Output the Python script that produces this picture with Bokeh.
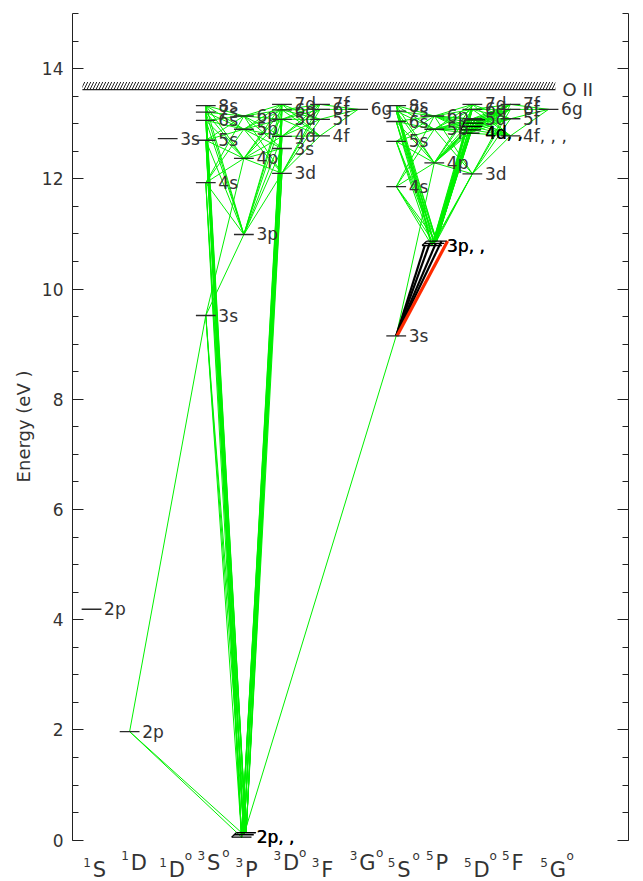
from bokeh.plotting import figure
from bokeh.models import Range1d, LinearAxis, SingleIntervalTicker, Title
from bokeh.core.properties import value
from bokeh.embed import file_html
from bokeh.resources import INLINE

# ---------------- terms (one column each) ----------------
term_keys = ["1S", "1D", "1Do", "3So", "3P", "3Do", "3F", "3Go", "5So", "5P", "5Do", "5F", "5Go"]
term_mult = ["1", "1", "1", "3", "3", "3", "3", "3", "5", "5", "5", "5", "5"]
term_letter = ["S", "D", "D", "S", "P", "D", "F", "G", "S", "P", "D", "F", "G"]
term_odd = [False, False, True, True, False, True, False, True, True, False, True, False, True]

# ---------------- energy levels (eV); several values = J components ----------------
level_term = ["1S", "1D", "1Do",
              "3So", "3So", "3So", "3So", "3So", "3So",
              "3P", "3P", "3P", "3P", "3P",
              "3Do", "3Do", "3Do", "3Do", "3Do", "3Do",
              "3F", "3F", "3F", "3F",
              "3Go",
              "5So", "5So", "5So", "5So", "5So", "5So",
              "5P", "5P", "5P", "5P",
              "5Do", "5Do", "5Do", "5Do", "5Do",
              "5F", "5F", "5F", "5F",
              "5Go"]
level_conf = ["2p", "2p", "3s",
              "3s", "4s", "5s", "6s", "7s", "8s",
              "2p", "3p", "4p", "5p", "6p",
              "3d", "3s", "4d", "5d", "6d", "7d",
              "4f", "5f", "6f", "7f",
              "6g",
              "3s", "4s", "5s", "6s", "7s", "8s",
              "3p", "4p", "5p", "6p",
              "3d", "4d", "5d", "6d", "7d",
              "4f", "5f", "6f", "7f",
              "6g"]
level_energy = [[4.19], [1.97], [12.73],
                [9.52], [11.93], [12.70], [13.06], [13.21], [13.33],
                [0.055, 0.098, 0.135], [10.99], [12.37], [12.90], [13.14],
                [12.10], [12.55], [12.77], [13.08], [13.25], [13.35],
                [12.78], [13.08], [13.26], [13.35],
                [13.26],
                [9.15], [11.86], [12.68], [13.04], [13.23], [13.33],
                [10.79, 10.83, 10.87], [12.29], [12.90], [13.14],
                [12.09], [12.83, 12.89, 12.95, 13.01, 13.07], [13.09], [13.26], [13.35],
                [12.78], [13.09], [13.26], [13.35],
                [13.26]]
level_text = ["2p", "2p", "3s",
              "3s", "4s", "5s", "6s", "7s", "8s",
              "2p, ,", "3p", "4p", "5p", "6p",
              "3d", "3s", "4d", "5d", "6d", "7d",
              "4f", "5f", "6f", "7f",
              "6g",
              "3s", "4s", "5s", "6s", "7s", "8s",
              "3p, ,", "4p", "5p", "6p",
              "3d", "4d, ,", "5d", "6d", "7d",
              "4f, , ,", "5f", "6f", "7f",
              "6g"]

ionization_limit = 13.62
ion_label = "O II"

# ---------------- permitted transitions (all J components drawn) ----------------
green_links = {
    "3P 2p": ["3So 3s", "3So 4s", "3So 5s", "3So 6s", "3So 7s", "3So 8s",
              "3Do 3d", "3Do 3s", "3Do 4d", "3Do 5d", "3Do 6d", "3Do 7d"],
    "3So 3s": ["3P 3p", "3P 4p"],
    "3P 3p": ["3So 4s", "3So 5s", "3So 6s", "3So 7s", "3So 8s",
              "3Do 3d", "3Do 3s", "3Do 4d", "3Do 5d", "3Do 6d", "3Do 7d"],
    "3So 4s": ["3P 4p", "3P 5p", "3P 6p"],
    "3Do 3d": ["3P 4p", "3P 5p", "3P 6p", "3F 4f", "3F 5f", "3F 6f", "3F 7f"],
    "3P 4p": ["3So 5s", "3So 6s", "3So 7s", "3So 8s", "3Do 3s", "3Do 4d", "3Do 5d", "3Do 6d", "3Do 7d"],
    "3Do 3s": ["3P 5p", "3P 6p"],
    "3So 5s": ["3P 5p", "3P 6p"],
    "3Do 4d": ["3P 5p", "3P 6p", "3F 4f", "3F 5f", "3F 6f", "3F 7f"],
    "3F 4f": ["3Do 5d", "3Do 6d", "3Do 7d", "3Go 6g"],
    "3P 5p": ["3So 6s", "3So 7s", "3So 8s", "3Do 5d", "3Do 6d", "3Do 7d"],
    "3P 6p": ["3So 6s", "3So 7s", "3So 8s", "3Do 5d", "3Do 6d", "3Do 7d"],
    "3Do 5d": ["3F 5f", "3F 6f", "3F 7f"],
    "3F 5f": ["3Do 6d", "3Do 7d", "3Go 6g"],
    "3Do 6d": ["3F 6f", "3F 7f"],
    "3F 6f": ["3Go 6g"],
    "3F 7f": ["3Go 6g"],
    "5P 3p": ["5So 4s", "5So 5s", "5So 6s", "5So 7s", "5So 8s",
              "5Do 3d", "5Do 4d", "5Do 5d", "5Do 6d", "5Do 7d"],
    "5So 4s": ["5P 4p", "5P 5p", "5P 6p"],
    "5Do 3d": ["5P 4p", "5P 5p", "5P 6p", "5F 4f", "5F 5f", "5F 6f", "5F 7f"],
    "5P 4p": ["5So 5s", "5So 6s", "5So 7s", "5So 8s", "5Do 4d", "5Do 5d", "5Do 6d", "5Do 7d"],
    "5So 5s": ["5P 5p", "5P 6p"],
    "5Do 4d": ["5P 5p", "5P 6p", "5F 4f", "5F 5f", "5F 6f", "5F 7f"],
    "5F 4f": ["5Do 5d", "5Do 6d", "5Do 7d", "5Go 6g"],
    "5P 5p": ["5So 6s", "5So 7s", "5So 8s", "5Do 5d", "5Do 6d", "5Do 7d"],
    "5P 6p": ["5So 6s", "5So 7s", "5So 8s", "5Do 5d", "5Do 6d", "5Do 7d"],
    "5Do 5d": ["5F 5f", "5F 6f", "5F 7f"],
    "5F 5f": ["5Do 6d", "5Do 7d", "5Go 6g"],
    "5Do 6d": ["5F 6f", "5F 7f"],
    "5F 6f": ["5Go 6g"],
    "5F 7f": ["5Go 6g"],
}

# single-component lines: (lower level, J index, upper level, J index)
single_links = [("1D 2p", 0, "3P 2p", 0), ("1D 2p", 0, "3P 2p", 1),
                ("1D 2p", 0, "3So 3s", 0), ("3P 2p", 1, "5So 3s", 0),
                ("5So 3s", 0, "5P 4p", 0)]

# highlighted 3s 5S - 3p 5P multiplet
black_to_j = [0, 1, 1, 2]
red_to_j = [2]

# ---------------- geometry / style ----------------
HALF = 0.26        # half length of a level bar (column units)
LABEL_DX = 0.33    # label start relative to column centre
FONT = value("DejaVu Sans")
GREEN = "#00f000"
INK = "#2a2a2a"
TXT = "#333333"

col_of = {k: i for i, k in enumerate(term_keys)}
levels = {}
for t, c, e, s in zip(level_term, level_conf, level_energy, level_text):
    n = len(e)
    step = 0.18 / n if n > 1 else 0.0
    xs = [col_of[t] + (k - (n - 1) / 2) * step for k in range(n)]
    levels[f"{t} {c}"] = dict(col=col_of[t], xs=xs, es=e, text=s)

p = figure(width=643, height=881, x_range=Range1d(-0.5, 14.1), y_range=Range1d(-0.75, 15),
           output_backend="svg", toolbar_location=None,
           x_axis_location=None, y_axis_location=None,
           min_border_left=72, min_border_right=15, min_border_top=13, min_border_bottom=0)
p.outline_line_color = None
p.grid.grid_line_color = None
p.background_fill_color = "white"

# ---- transitions ----
gx0, gy0, gx1, gy1 = [], [], [], []
for lo, ups in green_links.items():
    a = levels[lo]
    for up in ups:
        b = levels[up]
        for xa, ea in zip(a["xs"], a["es"]):
            for xb, eb in zip(b["xs"], b["es"]):
                gx0.append(xa); gy0.append(ea); gx1.append(xb); gy1.append(eb)
for lo, ja, up, jb in single_links:
    a, b = levels[lo], levels[up]
    gx0.append(a["xs"][ja]); gy0.append(a["es"][ja])
    gx1.append(b["xs"][jb]); gy1.append(b["es"][jb])
p.segment(x0=gx0, y0=gy0, x1=gx1, y1=gy1, line_color=GREEN, line_width=1)

lo3s, up3p = levels["5So 3s"], levels["5P 3p"]
fan_shift = [-0.25, -0.12, 0.04, 0.19]
p.segment(x0=[lo3s["xs"][0]] * len(black_to_j), y0=[lo3s["es"][0]] * len(black_to_j),
          x1=[up3p["col"] + s for s in fan_shift],
          y1=[up3p["es"][j] for j in black_to_j], line_color="black", line_width=2.2)
p.segment(x0=[lo3s["xs"][0] + 0.02], y0=[lo3s["es"][0]],
          x1=[up3p["col"] + 0.35], y1=[up3p["es"][j] for j in red_to_j],
          line_color="#ff2a00", line_width=3.2)

# ---- ionization limit ----
p.quad(left=[-0.24], right=[12.18], bottom=[ionization_limit], top=[ionization_limit + 0.135],
       fill_color=None, line_color=None, hatch_pattern="/", hatch_color="#222222",
       hatch_scale=6, hatch_weight=1)
p.segment(x0=[-0.24], y0=[ionization_limit], x1=[12.18], y1=[ionization_limit],
          line_color="#222222", line_width=1.3)
p.text(x=[12.37], y=[ionization_limit], text=[ion_label], text_font=FONT,
       text_font_size="18px", text_color=TXT, text_baseline="alphabetic")

# ---- level bars ----
bx0, bx1, by, bcol = [], [], [], []
cx0, cy0, cx1, cy1 = [], [], [], []
for key, lv in levels.items():
    multi = len(lv["es"]) > 1
    for x, e in zip(lv["xs"], lv["es"]):
        bx0.append(x - HALF); bx1.append(x + HALF); by.append(e)
        bcol.append("black" if multi else INK)
    if multi:
        cx0.append(lv["xs"][0] - HALF); cy0.append(lv["es"][0])
        cx1.append(lv["xs"][-1] - HALF); cy1.append(lv["es"][-1])
p.segment(x0=bx0, y0=by, x1=bx1, y1=by, line_color=bcol, line_width=1.3)
p.segment(x0=cx0, y0=cy0, x1=cx1, y1=cy1, line_color="black", line_width=1.3)

# ---- level labels ----
lx, ly, lt, lc = [], [], [], []
for key, lv in levels.items():
    multi = len(lv["es"]) > 1
    reps = 2 if multi else 1
    for r in range(reps):
        lx.append(lv["col"] + LABEL_DX + r * 0.012)
        ly.append(lv["es"][0])
        lt.append(lv["text"])
        lc.append("black" if multi else TXT)
p.text(x=lx, y=ly, text=lt, text_color=lc, text_font=FONT, text_font_size="17px",
       text_baseline="alphabetic", text_align="left")

# ---- term labels along the bottom (alternating heights) ----
letter_w = {"S": 0.40, "D": 0.42, "P": 0.35, "F": 0.33, "G": 0.44}
mx, my, Lx, Ly, ox, oy, ot = [], [], [], [], [], [], []
for i, (m, L, odd) in enumerate(zip(term_mult, term_letter, term_odd)):
    high = (i % 2 == 1)
    mx.append(i - 0.02); my.append(-0.28 if high else -0.40)
    Lx.append(i + 0.03); Ly.append(-0.42 if high else -0.545)
    if odd:
        ox.append(i + 0.03 + letter_w[L]); oy.append(-0.24 if high else -0.29); ot.append("o")
p.text(x=mx, y=my, text=term_mult, text_font=FONT, text_font_size="12px",
       text_color=TXT, text_align="right", text_baseline="alphabetic")
p.text(x=Lx, y=Ly, text=term_letter, text_font=FONT, text_font_size="21px",
       text_color=TXT, text_align="left", text_baseline="alphabetic")
p.text(x=ox, y=oy, text=ot, text_font=FONT, text_font_size="12px",
       text_color=TXT, text_align="left", text_baseline="alphabetic")

# ---- energy axes ----
def energy_axis(show_labels):
    ax = LinearAxis(ticker=SingleIntervalTicker(interval=2, num_minor_ticks=4), bounds=(0, 15))
    ax.axis_line_color = "#222222"
    ax.major_tick_line_color = "#222222"
    ax.minor_tick_line_color = "#222222"
    ax.major_tick_in = 11
    ax.major_tick_out = 0
    ax.minor_tick_in = 6
    ax.minor_tick_out = 0
    if show_labels:
        ax.major_label_text_font = "DejaVu Sans"
        ax.major_label_text_font_size = "17px"
        ax.major_label_text_color = TXT
        ax.major_label_standoff = 9
    else:
        ax.major_label_text_font_size = "1px"
        ax.major_label_text_alpha = 0
        ax.major_label_standoff = 0
    return ax

p.add_layout(energy_axis(True), "left")
p.add_layout(energy_axis(False), "right")

# vertical axis title, placed along the 0-15 eV span
p.add_layout(Title(text="Energy (eV )", align="right", offset=357, standoff=10,
                   text_font="DejaVu Sans", text_font_size="18px",
                   text_font_style="normal", text_color=TXT), "left")

open("out.html", "w").write(file_html(p, INLINE))
